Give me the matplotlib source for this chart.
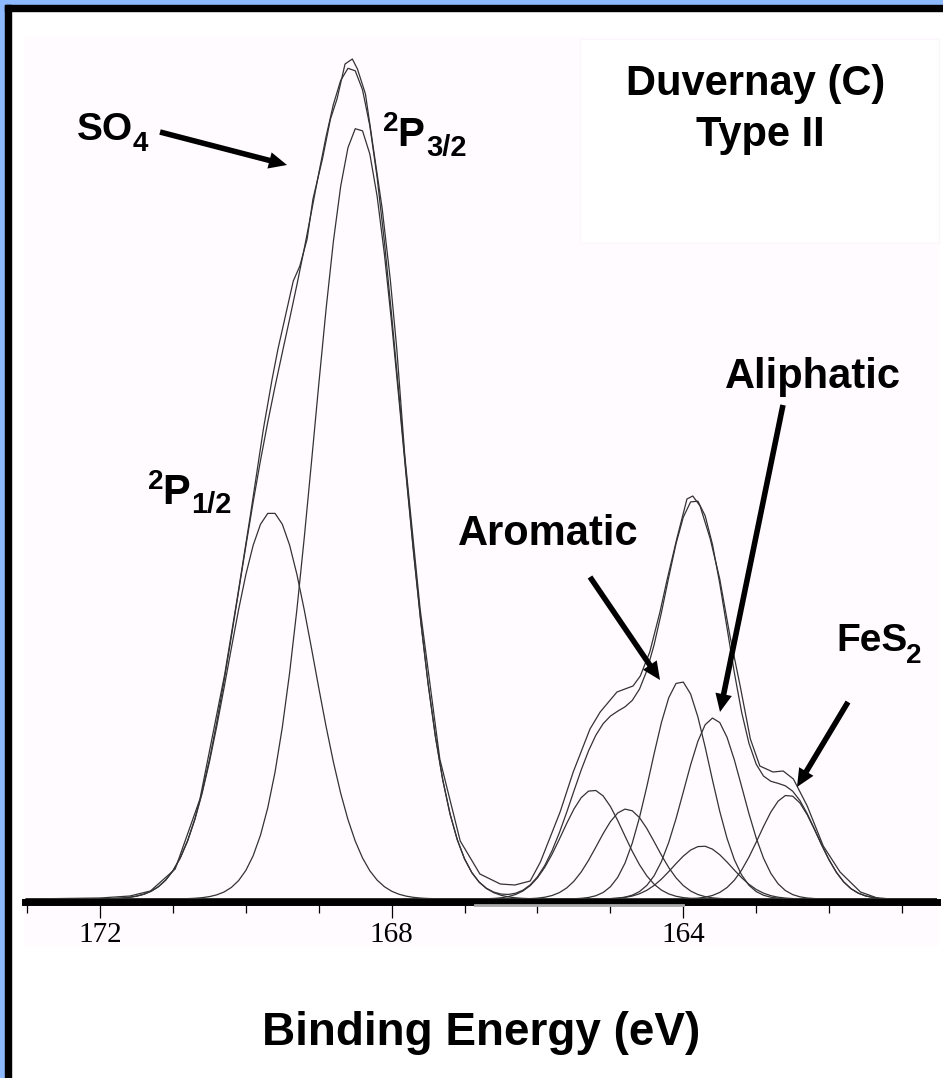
import numpy as np
import matplotlib.pyplot as plt
from matplotlib.patches import Rectangle
from matplotlib.text import Annotation
from matplotlib.ticker import MultipleLocator

plt.rcParams['font.family'] = ['Liberation Sans', 'DejaVu Sans']

W, H = 943, 1078

# measured S 2p spectrum (binding energy in eV, counts in arbitrary units)
meas_ev = [173.03, 172.00, 171.59, 171.31, 170.97, 170.63, 170.29, 170.12, 169.94, 169.76,
           169.64, 169.56, 169.35, 169.26, 169.16, 169.08, 168.95, 168.84, 168.75, 168.64,
           168.54, 168.47, 168.36, 168.26, 168.13, 168.02, 167.93, 167.82, 167.61, 167.34,
           167.06, 166.79, 166.51, 166.31, 166.10, 165.96, 165.69, 165.51, 165.28, 165.14,
           164.91, 164.69, 164.59, 164.46, 164.32, 164.22, 164.09, 163.95, 163.87, 163.77,
           163.63, 163.50, 163.36, 163.22, 163.08, 162.95, 162.77, 162.63, 162.49, 162.30,
           162.08, 161.85, 161.57, 161.30, 160.53]
meas_counts = [0, 1, 3, 8, 30, 100, 225, 300, 383, 470,
               520, 550, 618, 633, 660, 700, 740, 780, 800, 835,
               840, 830, 805, 755, 690, 620, 550, 443, 290, 140,
               58, 25, 15, 14, 18, 37, 87, 127, 170, 187,
               207, 213, 223, 247, 287, 320, 360, 400, 403, 393,
               360, 320, 263, 213, 160, 133, 127, 128, 120, 93,
               53, 27, 7, 0, 0]

# fitted components: SO4 2p1/2, SO4 2p3/2, 4 organic S lines, small line, FeS2
comp_center = [169.65, 168.46, 165.24, 164.78, 164.04, 163.74, 163.59, 162.56]
comp_height = [387, 772, 109, 90, 218, 53, 181, 104]
comp_sigma = [0.59, 0.60, 0.42, 0.40, 0.40, 0.40, 0.40, 0.40]

major_ticks = [172, 168, 164]
marked_region = [166.86, 164.0]

# energy grid of the fit (0.1 eV steps)
grid = np.arange(173.0, 160.45, -0.1)


def fx(px):
    return px / W


def fy(py):
    return 1 - py / H


fig = plt.figure(figsize=(W / 100, H / 100), dpi=100)
fig.patch.set_facecolor('white')

# frame: blue edge + black border on left/top
blue = '#8db9ff'
bg = [Rectangle((0, 0), fx(5), 1, color=blue),
      Rectangle((0, fy(5)), 1, 5 / H, color=blue),
      Rectangle((fx(5), 0), 6 / W, fy(5), color='black'),
      Rectangle((fx(5), fy(11)), 1, 6 / H, color='black'),
      # pale plot panel and white title box
      Rectangle((fx(25), fy(945)), (937 - 25) / W, (945 - 37) / H, color='#fffbff'),
      Rectangle((fx(580), fy(243)), (939 - 580) / W, (243 - 39) / H,
                facecolor='white', edgecolor='#fbf6fb', lw=0.8)]
for r in bg:
    r.set_transform(fig.transFigure)
    r.set_zorder(-5)
    fig.patches.append(r)

ax = fig.add_axes([fx(25), fy(902), (937 - 25) / W, (902 - 40) / H])
ax.set_zorder(1)
ax.patch.set_alpha(0)

line_col = '#333333'
total = np.zeros_like(grid)
for c, h, s in zip(comp_center, comp_height, comp_sigma):
    y = h * np.exp(-0.5 * ((grid - c) / s) ** 2)
    total += y
    ax.plot(grid, y, color=line_col, lw=0.9)
ax.plot(grid, total, color=line_col, lw=0.9)
ax.plot(meas_ev, meas_counts, color=line_col, lw=0.9)
ax.plot(marked_region, [-6, -6], color='#a8a8a8', lw=2, clip_on=False, zorder=3)

ax.set_xlim(173.03, 160.52)
ax.set_ylim(-3, 859)
for side in ['left', 'right', 'top']:
    ax.spines[side].set_visible(False)
ax.spines['bottom'].set_linewidth(5)
ax.set_yticks([])
ax.set_xticks(major_ticks)
ax.xaxis.set_minor_locator(MultipleLocator(1))
ax.tick_params(axis='x', which='major', length=11.5, width=0.9, pad=3, labelsize=21)
ax.tick_params(axis='x', which='minor', length=8, width=0.9)
for lab in ax.get_xticklabels():
    lab.set_fontfamily(['Liberation Serif', 'DejaVu Serif'])

# labels
bold = dict(fontweight='bold', ha='left', va='baseline', color='black', zorder=5)
fig.text(fx(77), fy(140), 'SO', fontsize=28, **bold)
fig.text(fx(133), fy(151), '4', fontsize=20, **bold)
fig.text(fx(383), fy(131), '2', fontsize=20, **bold)
fig.text(fx(397), fy(146), 'P', fontsize=29, **bold)
fig.text(fx(426), fy(156), '3/2', fontsize=21, **bold)
fig.text(fx(148), fy(489), '2', fontsize=20, **bold)
fig.text(fx(162), fy(504), 'P', fontsize=30, **bold)
fig.text(fx(191), fy(513), '1/2', fontsize=21, **bold)
fig.text(fx(458), fy(545), 'Aromatic', fontsize=30, **bold)
fig.text(fx(813), fy(388), 'Aliphatic', fontsize=30, fontweight='bold', ha='center', va='baseline')
fig.text(fx(836), fy(651), 'FeS', fontsize=28, **bold)
fig.text(fx(906), fy(663), '2', fontsize=20, **bold)
fig.text(fx(756), fy(95), 'Duvernay (C)', fontsize=30, fontweight='bold', ha='center', va='baseline')
fig.text(fx(760), fy(146), 'Type II', fontsize=30, fontweight='bold', ha='center', va='baseline')
fig.text(fx(481), fy(1045), 'Binding Energy (eV)', fontsize=33, fontweight='bold',
         ha='center', va='baseline')

arrow = dict(width=4, headwidth=12, headlength=13, shrink=0, facecolor='black', edgecolor='none')
for tail, head in [((160, 132), (287, 165)), ((590, 577), (660, 680)),
                   ((783, 405), (720, 712)), ((848, 702), (797, 787))]:
    a = Annotation('', xy=(fx(head[0]), fy(head[1])), xytext=(fx(tail[0]), fy(tail[1])),
                   xycoords='figure fraction', arrowprops=arrow)
    a.set_zorder(6)
    fig.add_artist(a)

fig.savefig('out.png', dpi=100)
